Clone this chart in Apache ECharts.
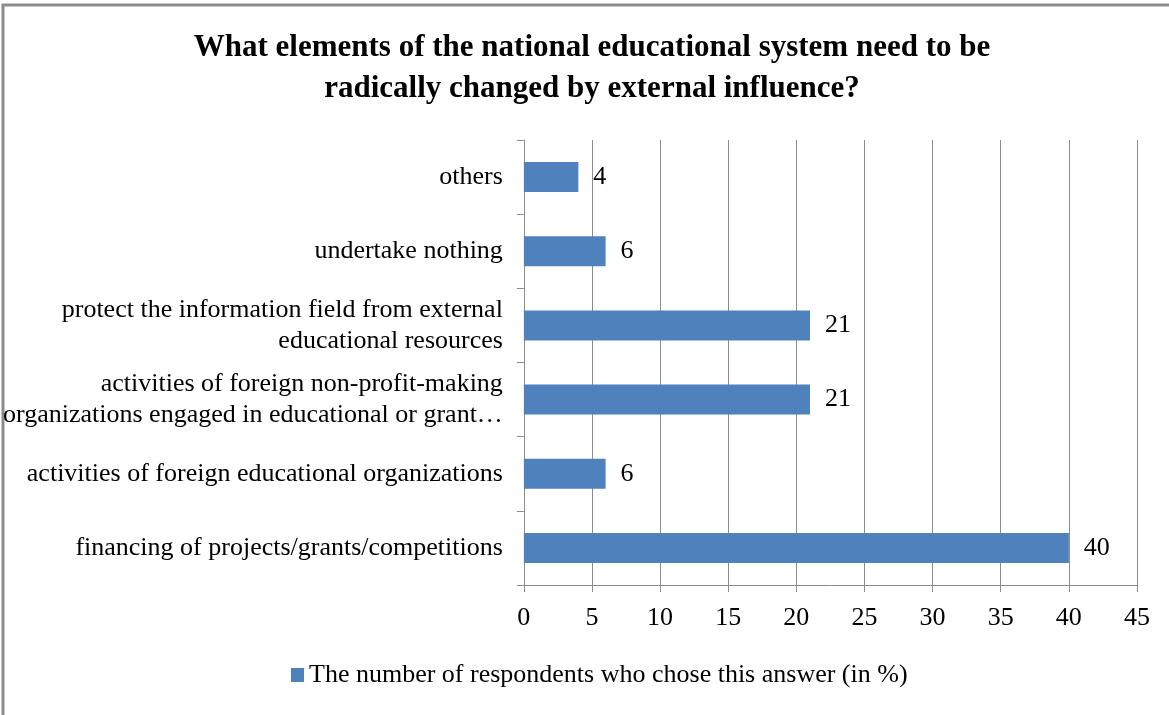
<!DOCTYPE html>
<html>
<head>
<meta charset="utf-8">
<script src="https://cdn.jsdelivr.net/npm/echarts@6/dist/echarts.min.js"></script>
<style>
  html, body { margin: 0; padding: 0; background: #ffffff; }
  #chart { width: 1169px; height: 715px; }
</style>
</head>
<body>
<div id="chart"></div>
<script>
// Answer options, listed bottom to top as they appear on the category axis
const categories = [
  'financing of projects/grants/competitions',
  'activities of foreign educational organizations',
  'activities of foreign non-profit-making\norganizations engaged in educational or grant\u2026',
  'protect the information field from external\neducational resources',
  'undertake nothing',
  'others'
];
// Share of respondents choosing each answer, in %
const values = [40, 6, 21, 21, 6, 4];
const seriesName = 'The number of respondents who chose this answer (in %)';
const titleText = 'What elements of the national educational system need to be\nradically changed by external influence?';
const xTicks = { min: 0, max: 45, interval: 5 };

const font = '"Liberation Serif", "Times New Roman", serif';
const chart = echarts.init(document.getElementById('chart'), null, { renderer: 'canvas' });

chart.setOption({
  backgroundColor: '#ffffff',
  animation: false,
  textStyle: { fontFamily: font, color: '#000' },
  title: {
    text: titleText,
    left: 587,
    top: 22,
    textAlign: 'center',
    textStyle: { fontFamily: font, fontSize: 31, fontWeight: 'bold', color: '#000', lineHeight: 41 }
  },
  graphic: [{
    type: 'rect',
    shape: { x: 3, y: 5, width: 1180, height: 720 },
    style: { fill: 'none', stroke: '#8c8c8c', lineWidth: 3 },
    silent: true
  }],
  legend: {
    bottom: 22,
    left: 286,
    icon: 'rect',
    itemWidth: 13,
    itemHeight: 14,
    itemGap: 6,
    textStyle: { fontFamily: font, fontSize: 26, color: '#000' },
    data: [seriesName]
  },
  grid: { left: 523, right: 32, top: 140, bottom: 130, containLabel: false },
  xAxis: {
    type: 'value',
    min: xTicks.min,
    max: xTicks.max,
    interval: xTicks.interval,
    axisLine: { show: true, lineStyle: { color: '#8c8c8c', width: 1 } },
    axisTick: { show: true, length: 7, lineStyle: { color: '#8c8c8c' } },
    axisLabel: { fontFamily: font, fontSize: 26, color: '#000', margin: 20 },
    splitLine: { show: true, lineStyle: { color: '#8c8c8c', width: 1 } }
  },
  yAxis: {
    type: 'category',
    data: categories,
    axisLine: { show: true, lineStyle: { color: '#8c8c8c', width: 1 } },
    axisTick: { show: true, length: 7, alignWithLabel: false, lineStyle: { color: '#8c8c8c' } },
    axisLabel: { fontFamily: font, fontSize: 26, color: '#000', margin: 21, lineHeight: 31, align: 'right' },
    splitLine: { show: false }
  },
  series: [{
    name: seriesName,
    type: 'bar',
    data: values,
    barWidth: 30,
    itemStyle: { color: '#4f81bd' },
    label: {
      show: true,
      position: 'right',
      distance: 15,
      fontFamily: font,
      fontSize: 26,
      color: '#000'
    }
  }]
});
</script>
</body>
</html>
